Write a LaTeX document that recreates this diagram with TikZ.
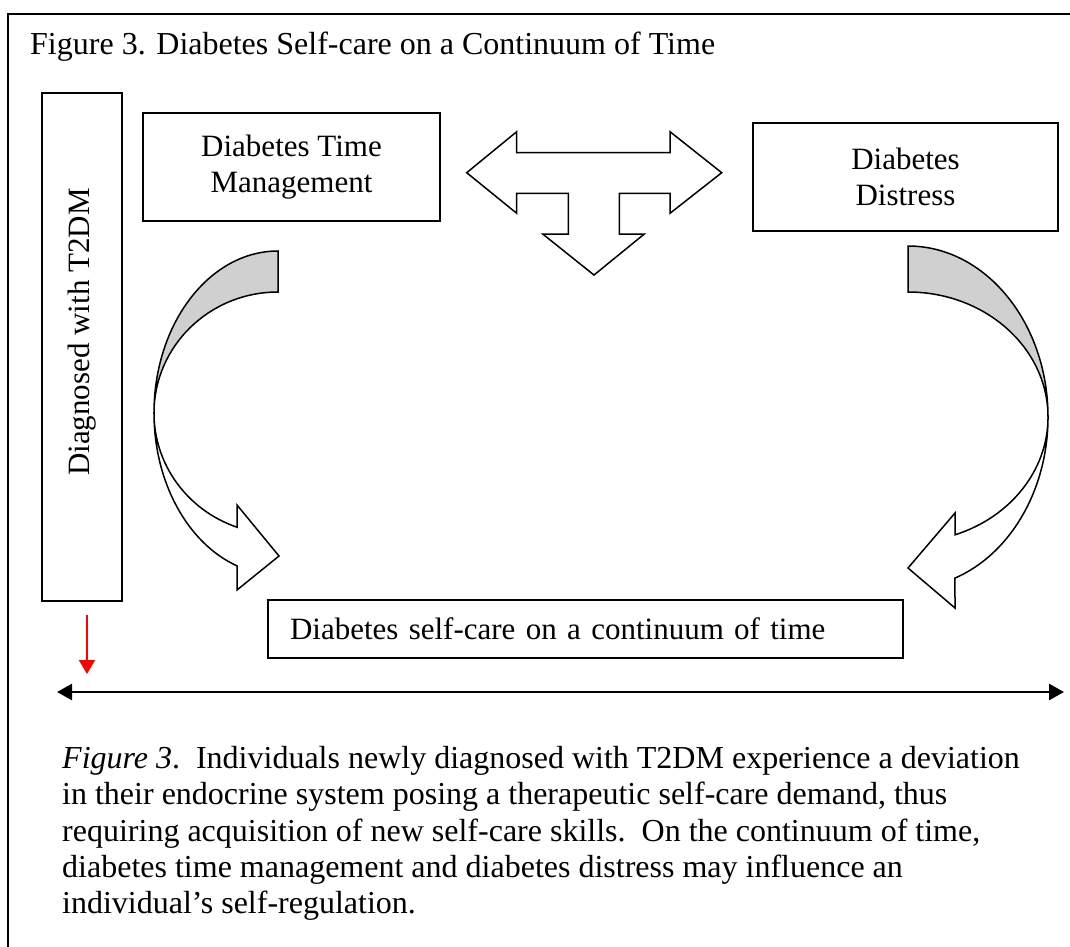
\documentclass[tikz,border=0pt]{standalone}
\usepackage{fontspec}
\setmainfont{Liberation Serif}
\usetikzlibrary{arrows.meta, positioning}
\definecolor{bandgray}{RGB}{208,208,208}

\begin{document}
\begin{tikzpicture}[x=1pt, y=1pt,
		txt/.style={font=\fontsize{31}{36.7}\selectfont},
		box/.style={draw, line width=1.8pt, align=center, inner sep=0pt, txt},
		outline/.style={draw, line width=1.5pt, line join=miter},
		timetip/.tip={Triangle[length=15pt, width=16pt]}]
		\useasboundingbox (0,0) rectangle (1070,-946);
		\draw[line width=2.6pt] (8,-14) rectangle (1100,-980);
		\node[anchor=base west, inner sep=0pt, font=\fontsize{32}{36.7}\selectfont] (title) at (30,-54) {Figure 3. Diabetes Self-care on a Continuum of Time};
		\node[box, minimum width=80, minimum height=508] (t2dm) at (82,-347) {};
		\node[rotate=90, inner sep=0pt, txt] (t2dmtext) at (82,-332) {Diagnosed with T2DM};
		\node[box, minimum width=297, minimum height=108] (timemgmt) at (291.5,-167) {Diabetes Time\\Management};
		\node[box, minimum width=305, minimum height=108] (distress) at (905.5,-177) {Diabetes\\Distress};
		\node[box, minimum width=635, minimum height=58, text width=591, align=left] (selfcare) at (585.5,-629) {Diabetes self-care on a continuum of time};
		\draw[outline, fill=white] (466.7,-172.7) -- (516.7,-131.7) -- (516.7,-152.7) -- (670,-152.7) -- (670,-131.7) -- (721.7,-172.7) -- (670,-213.3) -- (670,-193.3) -- (619.3,-193.3) -- (619.3,-234) -- (644.3,-234) -- (594,-275) -- (542.7,-234) -- (568.3,-234) -- (568.3,-193.3) -- (516.7,-193.3) -- (516.7,-213.3) -- cycle;
		\draw[outline, fill=bandgray] (278,-251) arc[start angle=90, end angle=180, x radius=124, y radius=162] arc[start angle=180, end angle=90, x radius=124, y radius=121] -- cycle;
		\draw[outline, fill=white] (154,-413) arc[start angle=180, end angle=250.7, x radius=124, y radius=162] -- (237,-590) -- (279,-556) -- (237,-505) -- (237,-527.2) arc[start angle=250.7, end angle=180, x radius=124, y radius=121] -- cycle;
		\draw[outline, fill=bandgray] (908,-246) arc[start angle=90, end angle=0, x radius=140, y radius=171] arc[start angle=0, end angle=90, x radius=140, y radius=125] -- cycle;
		\draw[outline, fill=white] (1048,-417) arc[start angle=0, end angle=-70.4, x radius=140, y radius=171] -- (955,-608) -- (908,-568) -- (955,-513) -- (955,-534.8) arc[start angle=-70.4, end angle=0, x radius=140, y radius=125] -- cycle;
		\coordinate (redtop) at (87,-615);
		\coordinate (redtip) at (87,-674);
		\draw[red, line width=1.8pt, -{Triangle[length=14pt, width=16pt]}] (redtop) -- (redtip);
		\coordinate (timeleft) at (57,-692);
		\coordinate (timeright) at (1064,-692);
		\draw[line width=2.6pt, timetip-timetip] (timeleft) -- (timeright);
		\node[anchor=north west, inner sep=0pt, align=left, font=\fontsize{32}{36.3}\selectfont] (caption) at (62,-746) {\textit{Figure 3}.\ \ Individuals newly diagnosed with T2DM experience a deviation\\in their endocrine system posing a therapeutic self-care demand, thus\\requiring acquisition of new self-care skills.\ \ On the continuum of time,\\diabetes time management and diabetes distress may influence an\\individual’s self-regulation.};
	\end{tikzpicture}
\end{document}
